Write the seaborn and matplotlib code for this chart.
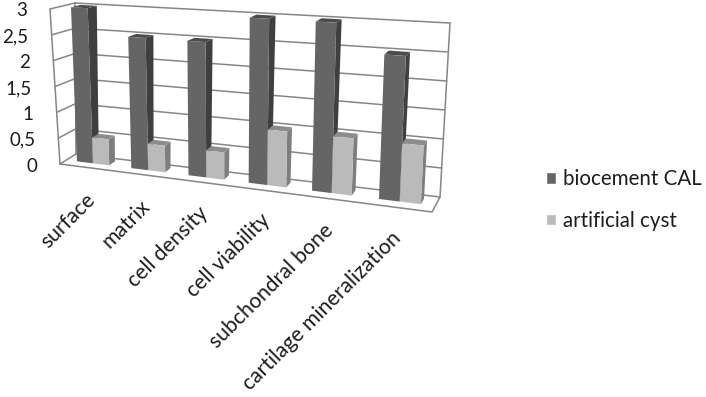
import numpy as np
import pandas as pd
import seaborn as sns
import matplotlib.pyplot as plt
from matplotlib.patches import Polygon
from matplotlib.transforms import Affine2D, Transform

categories = ["surface", "matrix", "cell density", "cell viability",
              "subchondral bone", "cartilage mineralization"]
biocement = [3, 2.5, 2.5, 3, 3, 2.5]
cyst = [0.5, 0.5, 0.5, 1, 1, 1]
y_ticks = [0, 0.5, 1, 1.5, 2, 2.5, 3]
y_tick_labels = ["0", "0,5", "1", "1,5", "2", "2,5", "3"]

W, H = 706, 397
Y_MAX = 3
Z_FRONT, Z_BACK = 0.4, 0.78
FORESHORTEN = 1.17

# box corners in image pixels, (u, v, z) = left/right, floor/top, front/back
BOX = {
    (0, 0, 0): (60, 164), (1, 0, 0): (432, 212),
    (0, 1, 0): (50, 9), (1, 1, 0): (440, 33),
    (0, 0, 1): (76, 154), (1, 0, 1): (440, 197),
    (0, 1, 1): (75, 3), (1, 1, 1): (450, 23),
}


def project(x, y, z):
    # category position and value to image pixels
    u = (np.asarray(x, float) + 0.5) / len(categories)
    u = u / (u + FORESHORTEN * (1 - u))
    v = np.asarray(y, float) / Y_MAX
    px, py = 0, 0
    for (a, b, c), (cx, cy) in BOX.items():
        w = (u if a else 1 - u) * (v if b else 1 - v) * (z if c else 1 - z)
        px = px + w * cx
        py = py + w * cy
    return np.column_stack([px, py]) if np.ndim(px) else np.array([px, py])


class BoxTransform(Transform):
    input_dims = output_dims = 2
    is_affine = False

    def __init__(self, z):
        super().__init__()
        self.z = z

    def transform_non_affine(self, values):
        values = np.asarray(values, float)
        return project(values[:, 0], values[:, 1], self.z)


sns.set_theme(style="white")
plt.rcParams["font.family"] = ["Lato", "DejaVu Sans"]

df = pd.DataFrame({
    "category": categories * 2,
    "value": biocement + cyst,
    "series": ["biocement CAL"] * 6 + ["artificial cyst"] * 6,
})

fig = plt.figure(figsize=(W / 100, H / 100), dpi=100)
ax = fig.add_axes([0, 0, 1, 1])
sns.barplot(data=df, x="category", y="value", hue="series", width=0.6,
            palette=["#656565", "#bababa"], saturation=1, ax=ax)
ax.set_axis_off()

to_display = Affine2D().scale(1, -1).translate(0, H)

# walls
line = dict(color="#868686", lw=1.1, transform=to_display, zorder=1)
ends = [-0.5, 5.5]
for t in y_ticks:
    back = project(ends, [t, t], 1)
    ax.plot(back[:, 0], back[:, 1], **line)
    side = np.array([project(-0.5, t, 0), project(-0.5, t, 1)])
    ax.plot(side[:, 0], side[:, 1], **line)
for x, z in [(-0.5, 0), (-0.5, 1), (5.5, 1)]:
    edge = np.array([project(x, 0, z), project(x, Y_MAX, z)])
    ax.plot(edge[:, 0], edge[:, 1], **line)
outline = np.array([project(-0.5, 0, 0), project(5.5, 0, 0), project(5.5, 0, 1)])
ax.plot(outline[:, 0], outline[:, 1], **line)

# bars: seaborn's rectangles get the box transform, side and top are added
faces = [("#3f3f3f", "#4b4b4b"), ("#7e7e7e", "#8c8c8c")]
front_tf = BoxTransform(Z_FRONT) + to_display
order = 2
for i in range(len(categories)):
    for container, (side_c, top_c) in zip(ax.containers, faces):
        bar = container[i]
        x0, x1, h = bar.get_x(), bar.get_x() + bar.get_width(), bar.get_height()
        side = [project(x1, 0, Z_FRONT), project(x1, 0, Z_BACK),
                project(x1, h, Z_BACK), project(x1, h, Z_FRONT)]
        top = [project(x0, h, Z_FRONT), project(x1, h, Z_FRONT),
               project(x1, h, Z_BACK), project(x0, h, Z_BACK)]
        ax.add_patch(Polygon(side, fc=side_c, ec="none", transform=to_display,
                             zorder=order, clip_on=False))
        ax.add_patch(Polygon(top, fc=top_c, ec="none", transform=to_display,
                             zorder=order, clip_on=False))
        bar.set_transform(front_tf)
        bar.set_zorder(order + 0.5)
        bar.set_clip_on(False)
        bar.set_edgecolor("none")
        order += 1

# tick labels
for t, label in zip(y_ticks, y_tick_labels):
    px, py = project(-0.5, t, 0)
    ax.text(px - 23, py + 2, label, ha="right", va="center", fontsize=13.5,
            color="#1c1c1c", transform=to_display)
label_anchor_x = [92, 147, 205, 267, 330, 398]
label_anchor_y = [197, 203, 210, 217, 227, 235]
for label, px, py in zip(categories, label_anchor_x, label_anchor_y):
    ax.text(px, py, label, ha="right", va="center", rotation=45,
            rotation_mode="anchor", fontsize=15.2, color="#1c1c1c",
            transform=to_display)

sns.move_legend(ax, "center left", bbox_to_anchor=(527 / W, 1 - 200 / H),
                title=None, frameon=False, fontsize=14.8, labelspacing=1.05,
                handlelength=0.52, handleheight=0.52, handletextpad=0.32,
                labelcolor="#1c1c1c")

fig.savefig("out.png", dpi=100)
